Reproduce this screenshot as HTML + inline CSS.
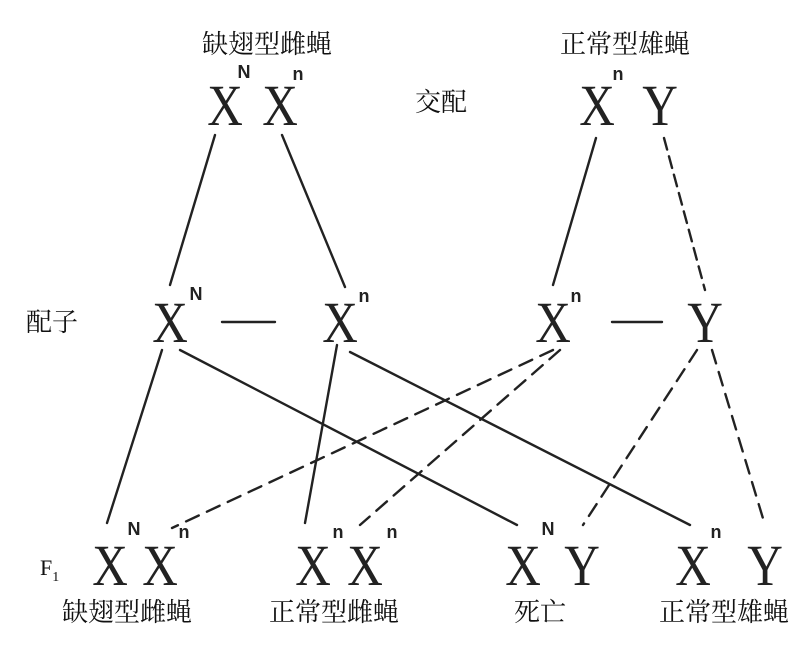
<!DOCTYPE html>
<html><head><meta charset="utf-8"><style>
html,body{margin:0;padding:0;background:#fff;}
svg{display:block;}
.cj{font-family:"Liberation Serif","Noto Serif CJK SC",serif;font-size:26px;fill:#111;}
.X text{font-family:"Liberation Serif",serif;font-size:58px;fill:#222;text-anchor:middle;}
.s{font-family:"Liberation Sans",sans-serif;font-size:18px;font-weight:bold;fill:#222;}
</style></head><body>
<svg width="802" height="649" viewBox="0 0 802 649" xmlns="http://www.w3.org/2000/svg">
<g stroke="#222" stroke-width="2.4" fill="none" stroke-linecap="round">
<line x1="215" y1="135" x2="170" y2="285"/>
<line x1="282" y1="135" x2="345" y2="287"/>
<line x1="596" y1="138" x2="553" y2="285"/>
<line x1="664" y1="138" x2="705" y2="290" stroke-dasharray="12,7"/>
<line x1="222" y1="322" x2="275" y2="322"/>
<line x1="612" y1="322" x2="662" y2="322"/>
<line x1="162" y1="350" x2="107" y2="523"/>
<line x1="180" y1="350" x2="517" y2="525"/>
<line x1="337" y1="345" x2="305" y2="523"/>
<line x1="350" y1="352" x2="690" y2="525"/>
<line x1="553" y1="350" x2="172" y2="528" stroke-dasharray="14,9"/>
<line x1="560" y1="350" x2="360" y2="525" stroke-dasharray="14,9"/>
<line x1="697" y1="350" x2="583" y2="525" stroke-dasharray="14,9"/>
<line x1="712" y1="350" x2="765" y2="525" stroke-dasharray="14,9"/>
</g>
<g class="cj">
<text x="267" y="53" text-anchor="middle">缺翅型雌蝇</text>
<text x="625" y="53" text-anchor="middle">正常型雄蝇</text>
<text x="441" y="111" text-anchor="middle">交配</text>
<text x="52" y="331" text-anchor="middle">配子</text>
<text x="127" y="621" text-anchor="middle">缺翅型雌蝇</text>
<text x="334" y="621" text-anchor="middle">正常型雌蝇</text>
<text x="540" y="621" text-anchor="middle">死亡</text>
<text x="724" y="621" text-anchor="middle">正常型雄蝇</text>
<text x="40" y="575" font-size="22">F<tspan font-size="14" dy="6">1</tspan></text>
</g>
<g class="X">
<text transform="translate(225,125) scale(0.85,1)">X</text><text transform="translate(280,125) scale(0.85,1)">X</text>
<text transform="translate(597,125) scale(0.85,1)">X</text><text transform="translate(660,125) scale(0.85,1)">Y</text>
<text transform="translate(170,342) scale(0.85,1)">X</text><text transform="translate(340,342) scale(0.85,1)">X</text>
<text transform="translate(553,342) scale(0.85,1)">X</text><text transform="translate(705,342) scale(0.85,1)">Y</text>
<text transform="translate(110,585) scale(0.85,1)">X</text><text transform="translate(160,585) scale(0.85,1)">X</text>
<text transform="translate(313,585) scale(0.85,1)">X</text><text transform="translate(365,585) scale(0.85,1)">X</text>
<text transform="translate(523,585) scale(0.85,1)">X</text><text transform="translate(582,585) scale(0.85,1)">Y</text>
<text transform="translate(693,585) scale(0.85,1)">X</text><text transform="translate(765,585) scale(0.85,1)">Y</text>
</g>
<g class="s" text-anchor="middle">
<text x="244" y="78">N</text><text x="298" y="80">n</text>
<text x="618" y="80">n</text>
<text x="196" y="300">N</text><text x="364" y="302">n</text>
<text x="576" y="302">n</text>
<text x="134" y="535">N</text><text x="184" y="538">n</text>
<text x="338" y="538">n</text><text x="392" y="538">n</text>
<text x="548" y="535">N</text><text x="716" y="538">n</text>
</g>
</svg>
</body></html>
